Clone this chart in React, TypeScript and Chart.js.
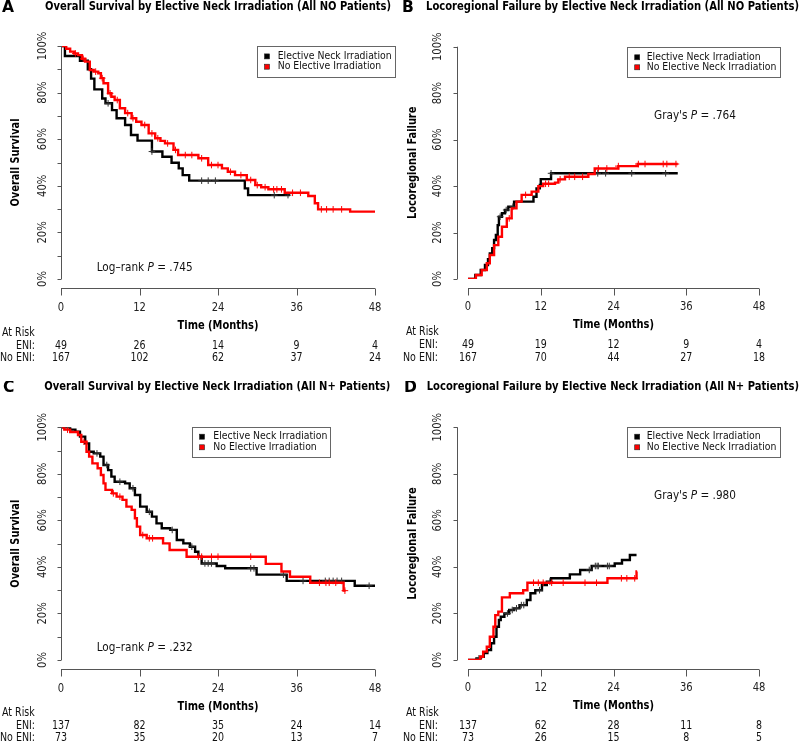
import React, { useEffect, useRef } from 'react';
import { Chart, registerables } from 'chart.js';
Chart.register(...registerables);

const FONT = "'DejaVu Sans Condensed', 'DejaVu Sans', sans-serif";
const RED = '#f00';
const BLACK = '#000';

const MONTH_TICKS = [0, 12, 24, 36, 48];
const PCT_MAJOR = [0, 0.2, 0.4, 0.6, 0.8, 1];
const PCT_MINOR = [0.1, 0.3, 0.5, 0.7, 0.9];

// ---------- Panel A: Overall survival, N0 ----------
const A_ENI_T = [0, 0.6, 2.9, 4.1, 4.6, 5.1, 6.3, 6.8, 7.8, 8.5, 9.8, 10.7, 11.7, 13.9, 15.5, 16.9, 18.0, 18.6, 19.6, 28.1, 28.6, 35.0];
const A_ENI_S = [1, 0.957, 0.937, 0.9, 0.86, 0.814, 0.775, 0.754, 0.725, 0.69, 0.661, 0.618, 0.594, 0.547, 0.525, 0.499, 0.475, 0.446, 0.422, 0.389, 0.36, 0.36];
const A_ENI_CENS = [7.2, 13.9, 21.5, 22.5, 23.6, 32.6, 34.7];
const A_NO_T = [0, 0.8, 1.4, 2.0, 2.6, 3.2, 3.7, 4.4, 5.0, 5.7, 6.1, 6.5, 7.2, 7.7, 8.2, 9.0, 9.8, 10.8, 11.5, 12.3, 13.4, 14.4, 15.2, 15.9, 17.2, 17.9, 21.0, 22.5, 24.6, 25.5, 26.6, 28.4, 29.7, 30.6, 31.7, 34.2, 37.8, 38.8, 39.3, 44.2, 48];
const A_NO_S = [1, 0.988, 0.976, 0.968, 0.961, 0.945, 0.933, 0.897, 0.89, 0.883, 0.862, 0.84, 0.797, 0.782, 0.768, 0.733, 0.712, 0.69, 0.675, 0.661, 0.625, 0.604, 0.593, 0.582, 0.554, 0.532, 0.518, 0.489, 0.475, 0.46, 0.446, 0.425, 0.403, 0.394, 0.385, 0.37, 0.356, 0.325, 0.299, 0.289, 0.289];
const A_NO_CENS = [2.2, 3.4, 5.3, 6.3, 7.5, 8.6, 10.2, 11.0, 12.8, 13.9, 14.8, 16.3, 17.5, 19.0, 20.0, 21.5, 23.0, 24.0, 25.9, 27.5, 29.0, 30.0, 31.2, 32.5, 33.0, 33.7, 35.4, 36.6, 39.8, 40.6, 41.6, 42.9];
const A_RISK_ENI = [49, 26, 14, 9, 4];
const A_RISK_NO = [167, 102, 62, 37, 24];

// ---------- Panel B: Locoregional failure, N0 ----------
const B_ENI_T = [0, 1.2, 2.1, 2.8, 3.3, 3.6, 4.0, 4.3, 4.6, 4.9, 5.1, 5.6, 6.1, 6.65, 7.6, 10.8, 11.3, 11.85, 12.0, 13.7, 34.6];
const B_ENI_S = [0, 0.017, 0.039, 0.06, 0.085, 0.11, 0.133, 0.168, 0.19, 0.232, 0.268, 0.283, 0.297, 0.311, 0.333, 0.354, 0.39, 0.405, 0.43, 0.455, 0.455];
const B_ENI_CENS = [5.3, 6.3, 7.4, 13.7, 21.4, 22.7, 27.0, 32.6];
const B_NO_T = [0, 1.3, 2.26, 3.1, 3.6, 4.3, 5.0, 5.6, 6.4, 7.2, 8.0, 8.85, 10.5, 11.6, 12.4, 14.35, 14.9, 16.0, 19.85, 20.9, 24.8, 28.0, 34.6];
const B_NO_S = [0, 0.017, 0.039, 0.068, 0.103, 0.146, 0.182, 0.225, 0.261, 0.304, 0.333, 0.362, 0.376, 0.4, 0.41, 0.415, 0.429, 0.44, 0.452, 0.476, 0.486, 0.495, 0.495];
const B_NO_CENS = [6.8, 9.5, 12.8, 13.3, 15.2, 16.7, 17.6, 18.9, 21.5, 22.9, 24.8, 28.1, 29.2, 32.2, 32.8, 34.3];
const B_RISK_ENI = [49, 19, 12, 9, 4];
const B_RISK_NO = [167, 70, 44, 27, 18];

// ---------- Panel C: Overall survival, N+ ----------
const C_ENI_T = [0, 1.4, 2.2, 2.9, 3.7, 4.3, 5.0, 6.0, 6.5, 7.2, 7.7, 8.2, 9.8, 10.5, 11.3, 12.1, 13.1, 13.9, 14.6, 15.4, 16.7, 17.7, 18.7, 19.7, 20.5, 21.0, 21.5, 23.8, 25.1, 29.9, 34.5, 44.9, 48];
const C_ENI_S = [1, 0.99, 0.981, 0.96, 0.931, 0.895, 0.888, 0.874, 0.838, 0.816, 0.788, 0.766, 0.759, 0.738, 0.709, 0.659, 0.637, 0.616, 0.587, 0.566, 0.559, 0.516, 0.501, 0.487, 0.465, 0.444, 0.415, 0.404, 0.394, 0.367, 0.34, 0.319, 0.319];
const C_ENI_CENS = [5.5, 7.0, 9.0, 11.0, 13.5, 17.0, 20.0, 22.0, 22.5, 23.0, 29.0, 29.5, 34.0, 37.0, 40.4, 41.0, 41.6, 42.2, 42.9, 47.1];
const C_NO_T = [0, 0.5, 1.4, 2.6, 3.1, 3.9, 4.3, 4.8, 5.6, 6.1, 6.5, 6.8, 7.8, 8.5, 9.4, 10.0, 10.8, 11.3, 11.6, 12.1, 13.1, 15.6, 16.6, 19.2, 31.3, 33.7, 35.0, 38.1, 43.2, 43.5];
const C_NO_S = [1, 0.99, 0.98, 0.967, 0.938, 0.895, 0.874, 0.845, 0.824, 0.795, 0.759, 0.731, 0.716, 0.702, 0.688, 0.659, 0.645, 0.609, 0.573, 0.537, 0.523, 0.501, 0.473, 0.444, 0.413, 0.38, 0.358, 0.332, 0.298, 0.298];
const C_NO_CENS = [1.0, 3.5, 8.0, 9.0, 12.5, 13.5, 14.0, 21.0, 21.5, 23.0, 24.0, 29.0, 39.5, 40.5, 41.0, 42.0, 43.4];
const C_RISK_ENI = [137, 82, 35, 24, 14];
const C_RISK_NO = [73, 35, 20, 13, 7];

// ---------- Panel D: Locoregional failure, N+ ----------
const D_ENI_T = [0, 1.4, 2.1, 2.6, 3.2, 3.8, 4.3, 4.7, 5.1, 5.4, 6.0, 6.8, 7.6, 8.5, 9.7, 10.3, 11.1, 12.2, 13.0, 13.7, 16.8, 18.5, 20.4, 24.2, 25.4, 26.7, 27.8];
const D_ENI_S = [0, 0.007, 0.014, 0.03, 0.043, 0.072, 0.1, 0.143, 0.172, 0.186, 0.2, 0.215, 0.222, 0.236, 0.258, 0.287, 0.3, 0.322, 0.337, 0.351, 0.368, 0.387, 0.404, 0.415, 0.43, 0.451, 0.451];
const D_ENI_CENS = [1.8, 6.5, 7.3, 8.0, 8.8, 9.2, 11.8, 13.5, 20.0, 21.0, 21.3, 21.5, 23.0, 23.3];
const D_NO_T = [0, 2.0, 2.5, 3.1, 3.6, 4.2, 4.5, 5.0, 5.6, 6.9, 9.1, 9.8, 23.0, 27.8, 27.9];
const D_NO_S = [0, 0.014, 0.036, 0.057, 0.1, 0.143, 0.193, 0.208, 0.269, 0.287, 0.3, 0.332, 0.351, 0.38, 0.38];
const D_NO_CENS = [10.8, 11.6, 12.4, 13.8, 15.7, 19.3, 21.2, 25.3, 26.2, 27.5];
const D_RISK_ENI = [137, 62, 28, 11, 8];
const D_RISK_NO = [73, 26, 15, 8, 5];

type Layout = {
  h: number; left: number; right: number; top: number; bottom: number; axisX: number; xAxisY: number;
  minor: boolean; yLabelX: number; yTitleX: number; titleX: number; titleW: number; titleY: number;
  letterX: number; letterY: number; box: [number, number, number, number]; sqX: number; legTextX: number;
  legRows: [number, number]; pX: number; pY: number; riskLabelX: number; riskColonX: number;
  rows: [number, number, number]; xTitleY: number; xLabelY: number;
};

type Cfg = {
  letter: string; title: string; yTitle: string; pPrefix: string; pValue: string; legend: [string, string];
  eniT: number[]; eniS: number[]; eniCens: number[]; noT: number[]; noS: number[]; noCens: number[];
  riskEni: number[]; riskNo: number[]; L: Layout; x: number; y: number; w: number;
};

const stepAt = (T: number[], S: number[], t: number) => {
  let v = S[0];
  for (let i = 0; i < T.length; i++) if (T[i] <= t) v = S[i];
  return v;
};
const pts = (T: number[], S: number[]) => T.map((t, i) => ({ x: t, y: S[i] }));
const cens = (C: number[], T: number[], S: number[]) => C.map((t) => ({ x: t, y: stepAt(T, S, t) }));

const LAYOUT_LEFT = {
  left: 61, right: 375, bottom: 279, axisX: 61, xAxisY: 288, minor: true, yLabelX: 43.3, yTitleX: 16,
  titleX: 45, titleW: 346, titleY: 6.5, letterX: 2, letterY: 8, riskLabelX: 2, riskColonX: 35,
  xTitleY: 325.5, xLabelY: 307.5, pX: 96.7,
};
const LAYOUT_RIGHT = {
  left: 68, right: 359, bottom: 279, axisX: 56.7, xAxisY: 288, minor: false, yLabelX: 38.3, yTitleX: 13,
  titleX: 26, titleW: 373, titleY: 6.5, letterX: 2, letterY: 8, riskLabelX: 6, riskColonX: 38,
  xTitleY: 325, xLabelY: 307.2, pX: 254,
};

const PANELS: Cfg[] = [
  {
    letter: 'A', title: 'Overall Survival by Elective Neck Irradiation (All NO Patients)', yTitle: 'Overall Survival',
    pPrefix: 'Log–rank', pValue: '.745', legend: ['Elective Neck Irradiation', 'No Elective Irradiation'],
    eniT: A_ENI_T, eniS: A_ENI_S, eniCens: A_ENI_CENS, noT: A_NO_T, noS: A_NO_S, noCens: A_NO_CENS,
    riskEni: A_RISK_ENI, riskNo: A_RISK_NO, x: 0, y: 0, w: 400,
    L: { ...LAYOUT_LEFT, h: 381, top: 46, box: [256.7, 46, 137.6, 30.7], sqX: 267, legTextX: 277.7, legRows: [56.4, 66.7], pY: 267.4, rows: [332.8, 345.8, 358.3] } as Layout,
  },
  {
    letter: 'B', title: 'Locoregional Failure by Elective Neck Irradiation (All NO Patients)', yTitle: 'Locoregional Failure',
    pPrefix: "Gray's", pValue: '.764', legend: ['Elective Neck Irradiation', 'No Elective Neck Irradiation'],
    eniT: B_ENI_T, eniS: B_ENI_S, eniCens: B_ENI_CENS, noT: B_NO_T, noS: B_NO_S, noCens: B_NO_CENS,
    riskEni: B_RISK_ENI, riskNo: B_RISK_NO, x: 400, y: 0, w: 400,
    L: { ...LAYOUT_RIGHT, h: 381, top: 46.7, box: [226.7, 46.7, 153.3, 30], sqX: 237.2, legTextX: 246.7, legRows: [57.3, 67.3], pY: 116.2, rows: [332.2, 345.2, 357.7] } as Layout,
  },
  {
    letter: 'C', title: 'Overall Survival by Elective Neck Irradiation (All N+ Patients)', yTitle: 'Overall Survival',
    pPrefix: 'Log–rank', pValue: '.232', legend: ['Elective Neck Irradiation', 'No Elective Irradiation'],
    eniT: C_ENI_T, eniS: C_ENI_S, eniCens: C_ENI_CENS, noT: C_NO_T, noS: C_NO_S, noCens: C_NO_CENS,
    riskEni: C_RISK_ENI, riskNo: C_RISK_NO, x: 0, y: 381, w: 400,
    L: { ...LAYOUT_LEFT, h: 362, top: 46.3, titleX: 44.3, titleY: 6.2, letterX: 3, letterY: 6.8, box: [191.7, 46.3, 138.3, 30], sqX: 202, legTextX: 213.3, legRows: [55.7, 66.3], pY: 266.5, rows: [332.3, 345.5, 357.5] } as Layout,
  },
  {
    letter: 'D', title: 'Locoregional Failure by Elective Neck Irradiation (All N+ Patients)', yTitle: 'Locoregional Failure',
    pPrefix: "Gray's", pValue: '.980', legend: ['Elective Neck Irradiation', 'No Elective Neck Irradiation'],
    eniT: D_ENI_T, eniS: D_ENI_S, eniCens: D_ENI_CENS, noT: D_NO_T, noS: D_NO_S, noCens: D_NO_CENS,
    riskEni: D_RISK_ENI, riskNo: D_RISK_NO, x: 400, y: 381, w: 400,
    L: { ...LAYOUT_RIGHT, h: 362, top: 46.3, titleX: 26.7, titleW: 372.3, titleY: 6.2, letterX: 4, letterY: 6.8, box: [226.7, 46.3, 152.6, 30], sqX: 237.2, legTextX: 246.7, legRows: [55.7, 66.3], pY: 114.7, rows: [332.3, 345.5, 357.5] } as Layout,
  },
];

type TS = { size: number; weight: string; style: string; sx: number };
const fontOf = (size: number, weight = 'normal', style = 'normal') => `${style} ${weight} ${size}px ${FONT}`;

function makeStyles() {
  const c = document.createElement('canvas').getContext('2d')!;
  const mk = (size: number, weight: string, ref: string, refW: number, style = 'normal'): TS => {
    c.font = fontOf(size, weight, style);
    return { size, weight, style, sx: refW / c.measureText(ref).width };
  };
  // p-value reference measured as three parts (italic P)
  const pSize = 12.3;
  c.font = fontOf(pSize);
  let pw = c.measureText('Log–rank ').width + c.measureText(' = .745').width;
  c.font = fontOf(pSize, 'normal', 'italic');
  pw += c.measureText('P').width;
  return {
    mk,
    letter: mk(15, 'bold', 'A', 12),
    yTitle: mk(12.3, 'bold', 'Overall Survival', 88),
    xTitle: mk(12.3, 'bold', 'Time (Months)', 81),
    tick: mk(11.8, 'normal', '100%', 28.6),
    legend: mk(10.2, 'normal', 'Elective Neck Irradiation', 114),
    risk: mk(11.4, 'normal', 'No ENI:', 35),
    p: { size: pSize, weight: 'normal', style: 'normal', sx: 96 / pw } as TS,
  };
}

function drawText(
  ctx: CanvasRenderingContext2D, s: string, x: number, y: number, ts: TS,
  align: CanvasTextAlign = 'left', rot = 0, styleOverride?: string,
) {
  ctx.save();
  ctx.translate(x, y);
  if (rot) ctx.rotate(rot);
  ctx.scale(ts.sx, 1);
  ctx.font = fontOf(ts.size, ts.weight, styleOverride || ts.style);
  ctx.textAlign = align;
  ctx.textBaseline = 'middle';
  ctx.fillText(s, 0, 0);
  ctx.restore();
}

function Panel({ cfg }: { cfg: Cfg }) {
  const ref = useRef<HTMLCanvasElement>(null);
  useEffect(() => {
    const canvas = ref.current!;
    const Z = makeStyles();
    const L = cfg.L;
    const titleTS = Z.mk(11.8, 'bold', cfg.title, L.titleW);

    const decor = {
      id: 'kmDecor',
      afterDraw(chart: any) {
        const ctx: CanvasRenderingContext2D = chart.ctx;
        const xs = chart.scales.x;
        const ys = chart.scales.y;
        ctx.save();
        ctx.fillStyle = '#000';
        drawText(ctx, cfg.letter, L.letterX, L.letterY, Z.letter);
        drawText(ctx, cfg.title, L.titleX, L.titleY, titleTS);

        // Y axis line and ticks
        ctx.strokeStyle = '#555';
        ctx.lineWidth = 1;
        const ax = Math.round(L.axisX) + 0.5;
        ctx.beginPath();
        ctx.moveTo(ax, ys.getPixelForValue(0));
        ctx.lineTo(ax, ys.getPixelForValue(1));
        const yt = L.minor ? PCT_MAJOR.concat(PCT_MINOR) : PCT_MAJOR;
        yt.forEach((v) => {
          const py = Math.round(ys.getPixelForValue(v)) + 0.5;
          ctx.moveTo(ax - 4, py);
          ctx.lineTo(ax, py);
        });
        ctx.stroke();

        // X axis line and ticks
        const ay = Math.round(L.xAxisY) + 0.5;
        ctx.beginPath();
        ctx.moveTo(xs.getPixelForValue(MONTH_TICKS[0]), ay);
        ctx.lineTo(xs.getPixelForValue(MONTH_TICKS[MONTH_TICKS.length - 1]), ay);
        MONTH_TICKS.forEach((t) => {
          const px = Math.round(xs.getPixelForValue(t)) + 0.5;
          ctx.moveTo(px, ay);
          ctx.lineTo(px, ay + 7);
        });
        ctx.stroke();

        // Tick labels from the scales' own ticks
        ctx.fillStyle = '#222';
        ys.ticks.forEach((tk: any) => {
          drawText(ctx, `${Math.round(tk.value * 100)}%`, L.yLabelX, ys.getPixelForValue(tk.value), Z.tick, 'center', -Math.PI / 2);
        });
        xs.ticks.forEach((tk: any) => {
          drawText(ctx, String(tk.value), xs.getPixelForValue(tk.value), L.xLabelY, Z.tick, 'center');
        });

        // Axis titles
        ctx.fillStyle = '#000';
        drawText(ctx, 'Time (Months)', xs.getPixelForValue(24), L.xTitleY, Z.xTitle, 'center');
        drawText(ctx, cfg.yTitle, L.yTitleX, (ys.getPixelForValue(0) + ys.getPixelForValue(1)) / 2, Z.yTitle, 'center', -Math.PI / 2);

        // At-risk table
        ctx.fillStyle = '#111';
        drawText(ctx, 'At Risk', L.riskLabelX, L.rows[0], Z.risk, 'left');
        drawText(ctx, 'ENI:', L.riskColonX, L.rows[1], Z.risk, 'right');
        drawText(ctx, 'No ENI:', L.riskColonX, L.rows[2], Z.risk, 'right');
        MONTH_TICKS.forEach((t, i) => {
          const px = xs.getPixelForValue(t);
          drawText(ctx, String(cfg.riskEni[i]), px, L.rows[1], Z.risk, 'center');
          drawText(ctx, String(cfg.riskNo[i]), px, L.rows[2], Z.risk, 'center');
        });

        // Legend
        const [bx, by, bw, bh] = L.box;
        ctx.strokeStyle = '#666';
        ctx.lineWidth = 1;
        ctx.strokeRect(Math.round(bx) + 0.5, Math.round(by) + 0.5, Math.round(bw), Math.round(bh));
        [BLACK, RED].forEach((col, i) => {
          const ry = L.legRows[i];
          ctx.fillStyle = col;
          ctx.fillRect(L.sqX - 2.5, ry - 2.5, 5, 5);
          ctx.strokeStyle = '#222';
          ctx.lineWidth = 0.6;
          ctx.strokeRect(L.sqX - 2.5, ry - 2.5, 5, 5);
          ctx.fillStyle = '#111';
          drawText(ctx, cfg.legend[i], L.legTextX, ry, Z.legend, 'left');
        });

        // P-value with italic P
        ctx.fillStyle = '#111';
        const P = Z.p;
        const c2 = ctx;
        c2.font = fontOf(P.size);
        const w1 = c2.measureText(cfg.pPrefix + ' ').width * P.sx;
        c2.font = fontOf(P.size, 'normal', 'italic');
        const w2 = c2.measureText('P').width * P.sx;
        drawText(ctx, cfg.pPrefix + ' ', L.pX, L.pY, P, 'left');
        drawText(ctx, 'P', L.pX + w1, L.pY, P, 'left', 0, 'italic');
        drawText(ctx, ' = ' + cfg.pValue, L.pX + w1 + w2, L.pY, P, 'left');
        ctx.restore();
      },
    };

    const chart = new Chart(canvas, {
      type: 'line',
      data: {
        datasets: [
          {
            label: 'No ENI censored', data: cens(cfg.noCens, cfg.noT, cfg.noS), showLine: false,
            pointStyle: 'cross', pointRadius: 3.3, borderColor: RED, backgroundColor: RED, borderWidth: 1,
          },
          {
            label: cfg.legend[1], data: pts(cfg.noT, cfg.noS), stepped: 'before', borderColor: RED,
            borderWidth: 2.4, pointRadius: 0, fill: false,
          },
          {
            label: 'ENI censored', data: cens(cfg.eniCens, cfg.eniT, cfg.eniS), showLine: false,
            pointStyle: 'cross', pointRadius: 3.3, borderColor: '#333', backgroundColor: '#333', borderWidth: 1,
          },
          {
            label: cfg.legend[0], data: pts(cfg.eniT, cfg.eniS), stepped: 'before', borderColor: BLACK,
            borderWidth: 2.4, pointRadius: 0, fill: false,
          },
        ] as any,
      },
      options: {
        animation: false,
        responsive: false,
        maintainAspectRatio: false,
        layout: { padding: { left: 0, top: L.top, right: cfg.w - L.right, bottom: 0 } },
        plugins: { legend: { display: false }, tooltip: { enabled: false }, title: { display: false } },
        scales: {
          x: {
            type: 'linear', min: 0, max: 48,
            afterFit: (s: any) => { s.height = L.h - L.bottom; },
            grid: { display: false, drawTicks: false },
            border: { display: false },
            ticks: { stepSize: 12, autoSkip: false, display: false },
          },
          y: {
            type: 'linear', min: 0, max: 1,
            afterFit: (s: any) => { s.width = L.left; },
            grid: { display: false, drawTicks: false },
            border: { display: false },
            ticks: { stepSize: 0.2, autoSkip: false, display: false },
          },
        },
      } as any,
      plugins: [decor],
    });
    return () => chart.destroy();
  }, [cfg]);
  return (
    <canvas
      ref={ref}
      width={cfg.w}
      height={cfg.L.h}
      style={{ position: 'absolute', left: cfg.x, top: cfg.y, width: cfg.w, height: cfg.L.h }}
    />
  );
}

export default function App() {
  return (
    <div style={{ position: 'fixed', left: 0, top: 0, width: 800, height: 743, background: '#fff', overflow: 'hidden' }}>
      {PANELS.map((p) => (
        <Panel key={p.letter} cfg={p} />
      ))}
    </div>
  );
}
